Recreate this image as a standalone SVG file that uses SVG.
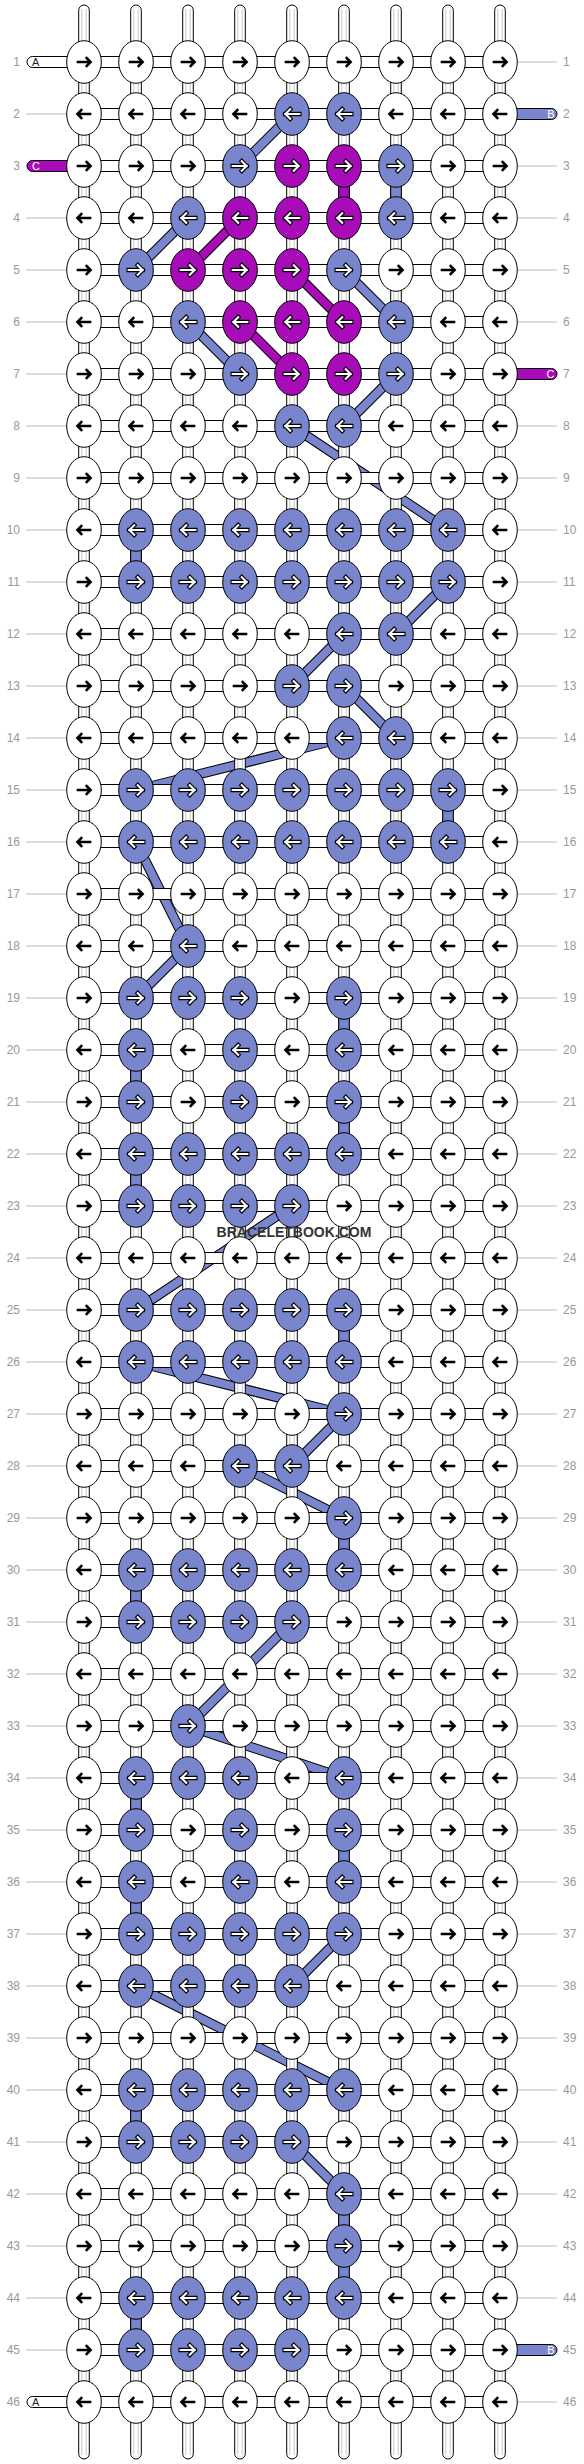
<svg xmlns="http://www.w3.org/2000/svg" xmlns:xlink="http://www.w3.org/1999/xlink" width="584" height="2464" viewBox="0 0 584 2464">
<style>
.lbl{font-family:"Liberation Sans",Arial,sans-serif;font-size:12px;fill:#999}
.ll{text-anchor:end}
.gry{fill:none;stroke:#bbb;stroke-width:1}
.w{fill:#fff;stroke:#000;stroke-width:1}
.b{fill:#7985cc;stroke:#000;stroke-width:1}
.m{fill:#a80bb8;stroke:#000;stroke-width:1}
.gl{fill:none;stroke:#c8c8c8;stroke-width:1}
.ak{fill:none;stroke:#000;stroke-width:2.6}
.ao{fill:none;stroke:#000;stroke-width:4.4;stroke-linecap:square}
.aw{fill:none;stroke:#fff;stroke-width:2.2;stroke-linecap:square}
.bo{fill:none;stroke:#000;stroke-width:10}
.bb{fill:none;stroke:#7985cc;stroke-width:8}
.bm{fill:none;stroke:#a80bb8;stroke-width:8}
.tl{font-family:"Liberation Sans",Arial,sans-serif;font-size:11px}
.wm{font-family:"Liberation Sans",Arial,sans-serif;font-size:14px;font-weight:bold;fill:#333;text-anchor:middle}
</style>
<defs>
<ellipse id="e" rx="17.3" ry="21.3"/>
<path id="pr" d="M-7.3,0H6.6M1.8,-4.8L6.6,0L1.8,4.8"/>
<path id="pl" d="M7.3,0H-6.6M-1.8,-4.8L-6.6,0L-1.8,4.8"/>
<g id="wR"><use href="#e" class="w"/><use href="#pr" class="ak"/></g>
<g id="wL"><use href="#e" class="w"/><use href="#pl" class="ak"/></g>
<g id="bR"><use href="#e" class="b"/><use href="#pr" class="ao"/><use href="#pr" class="aw"/></g>
<g id="bL"><use href="#e" class="b"/><use href="#pl" class="ao"/><use href="#pl" class="aw"/></g>
<g id="mR"><use href="#e" class="m"/><use href="#pr" class="ao"/><use href="#pr" class="aw"/></g>
<g id="mL"><use href="#e" class="m"/><use href="#pl" class="ao"/><use href="#pl" class="aw"/></g>
<g id="tube"><rect class="w" x="-5.3" y="5" width="10.6" height="2454" rx="5.3"/><path class="gl" d="M-2.2,9V2455M2.2,9V2455"/></g>
<rect id="hc" class="w" x="84" y="-5.5" width="416" height="11"/>
</defs>
<rect width="584" height="2464" fill="#fff"/>
<g id="labels">
<path class="gry" d="M26,114H67M26,218H67M26,270H67M26,322H67M26,374H67M26,426H67M26,478H67M26,530H67M26,582H67M26,634H67M26,686H67M26,738H67M26,790H67M26,842H67M26,894H67M26,946H67M26,998H67M26,1050H67M26,1102H67M26,1154H67M26,1206H67M26,1258H67M26,1310H67M26,1362H67M26,1414H67M26,1466H67M26,1518H67M26,1570H67M26,1622H67M26,1674H67M26,1726H67M26,1778H67M26,1830H67M26,1882H67M26,1934H67M26,1986H67M26,2038H67M26,2090H67M26,2142H67M26,2194H67M26,2246H67M26,2298H67M26,2350H67"/>
<path class="gry" d="M517,62H557M517,166H557M517,218H557M517,270H557M517,322H557M517,426H557M517,478H557M517,530H557M517,582H557M517,634H557M517,686H557M517,738H557M517,790H557M517,842H557M517,894H557M517,946H557M517,998H557M517,1050H557M517,1102H557M517,1154H557M517,1206H557M517,1258H557M517,1310H557M517,1362H557M517,1414H557M517,1466H557M517,1518H557M517,1570H557M517,1622H557M517,1674H557M517,1726H557M517,1778H557M517,1830H557M517,1882H557M517,1934H557M517,1986H557M517,2038H557M517,2090H557M517,2142H557M517,2194H557M517,2246H557M517,2298H557M517,2402H557"/>
<g class="lbl ll">
<text x="20" y="66.3">1</text><text x="20" y="118.3">2</text><text x="20" y="170.3">3</text><text x="20" y="222.3">4</text><text x="20" y="274.3">5</text><text x="20" y="326.3">6</text><text x="20" y="378.3">7</text><text x="20" y="430.3">8</text><text x="20" y="482.3">9</text><text x="20" y="534.3">10</text><text x="20" y="586.3">11</text><text x="20" y="638.3">12</text><text x="20" y="690.3">13</text><text x="20" y="742.3">14</text><text x="20" y="794.3">15</text><text x="20" y="846.3">16</text><text x="20" y="898.3">17</text><text x="20" y="950.3">18</text><text x="20" y="1002.3">19</text><text x="20" y="1054.3">20</text><text x="20" y="1106.3">21</text><text x="20" y="1158.3">22</text><text x="20" y="1210.3">23</text><text x="20" y="1262.3">24</text><text x="20" y="1314.3">25</text><text x="20" y="1366.3">26</text><text x="20" y="1418.3">27</text><text x="20" y="1470.3">28</text><text x="20" y="1522.3">29</text><text x="20" y="1574.3">30</text><text x="20" y="1626.3">31</text><text x="20" y="1678.3">32</text><text x="20" y="1730.3">33</text><text x="20" y="1782.3">34</text><text x="20" y="1834.3">35</text><text x="20" y="1886.3">36</text><text x="20" y="1938.3">37</text><text x="20" y="1990.3">38</text><text x="20" y="2042.3">39</text><text x="20" y="2094.3">40</text><text x="20" y="2146.3">41</text><text x="20" y="2198.3">42</text><text x="20" y="2250.3">43</text><text x="20" y="2302.3">44</text><text x="20" y="2354.3">45</text><text x="20" y="2406.3">46</text>
</g>
<g class="lbl">
<text x="563" y="66.3">1</text><text x="563" y="118.3">2</text><text x="563" y="170.3">3</text><text x="563" y="222.3">4</text><text x="563" y="274.3">5</text><text x="563" y="326.3">6</text><text x="563" y="378.3">7</text><text x="563" y="430.3">8</text><text x="563" y="482.3">9</text><text x="563" y="534.3">10</text><text x="563" y="586.3">11</text><text x="563" y="638.3">12</text><text x="563" y="690.3">13</text><text x="563" y="742.3">14</text><text x="563" y="794.3">15</text><text x="563" y="846.3">16</text><text x="563" y="898.3">17</text><text x="563" y="950.3">18</text><text x="563" y="1002.3">19</text><text x="563" y="1054.3">20</text><text x="563" y="1106.3">21</text><text x="563" y="1158.3">22</text><text x="563" y="1210.3">23</text><text x="563" y="1262.3">24</text><text x="563" y="1314.3">25</text><text x="563" y="1366.3">26</text><text x="563" y="1418.3">27</text><text x="563" y="1470.3">28</text><text x="563" y="1522.3">29</text><text x="563" y="1574.3">30</text><text x="563" y="1626.3">31</text><text x="563" y="1678.3">32</text><text x="563" y="1730.3">33</text><text x="563" y="1782.3">34</text><text x="563" y="1834.3">35</text><text x="563" y="1886.3">36</text><text x="563" y="1938.3">37</text><text x="563" y="1990.3">38</text><text x="563" y="2042.3">39</text><text x="563" y="2094.3">40</text><text x="563" y="2146.3">41</text><text x="563" y="2198.3">42</text><text x="563" y="2250.3">43</text><text x="563" y="2302.3">44</text><text x="563" y="2354.3">45</text><text x="563" y="2406.3">46</text>
</g>
</g>
<g id="connectors">
<path class="bo" d="M292,114L240,166M188,218L136,270M344,270L396,322M188,322L240,374M396,374L344,426M292,426L448,530M448,582L396,634M344,634L292,686M344,686L396,738M344,738L136,790M136,842L188,946M188,946L136,998M292,1206L136,1310M136,1362L344,1414M344,1414L292,1466M240,1466L344,1518M292,1622L188,1726M188,1726L344,1778M344,1934L292,1986M136,1986L344,2090M292,2142L344,2194M240,218L188,270M292,270L344,322M240,322L292,374"/>
<path class="bb" d="M292,114L240,166M188,218L136,270M344,270L396,322M188,322L240,374M396,374L344,426M292,426L448,530M448,582L396,634M344,634L292,686M344,686L396,738M344,738L136,790M136,842L188,946M188,946L136,998M292,1206L136,1310M136,1362L344,1414M344,1414L292,1466M240,1466L344,1518M292,1622L188,1726M188,1726L344,1778M344,1934L292,1986M136,1986L344,2090M292,2142L344,2194"/>
<path class="bm" d="M240,218L188,270M292,270L344,322M240,322L292,374"/>
<use href="#tube" x="84"/><use href="#tube" x="136"/><use href="#tube" x="188"/><use href="#tube" x="240"/><use href="#tube" x="292"/><use href="#tube" x="344"/><use href="#tube" x="396"/><use href="#tube" x="448"/><use href="#tube" x="500"/>
<use href="#hc" y="62"/><use href="#hc" y="114"/><use href="#hc" y="166"/><use href="#hc" y="218"/><use href="#hc" y="270"/><use href="#hc" y="322"/><use href="#hc" y="374"/><use href="#hc" y="426"/><use href="#hc" y="478"/><use href="#hc" y="530"/><use href="#hc" y="582"/><use href="#hc" y="634"/><use href="#hc" y="686"/><use href="#hc" y="738"/><use href="#hc" y="790"/><use href="#hc" y="842"/><use href="#hc" y="894"/><use href="#hc" y="946"/><use href="#hc" y="998"/><use href="#hc" y="1050"/><use href="#hc" y="1102"/><use href="#hc" y="1154"/><use href="#hc" y="1206"/><use href="#hc" y="1258"/><use href="#hc" y="1310"/><use href="#hc" y="1362"/><use href="#hc" y="1414"/><use href="#hc" y="1466"/><use href="#hc" y="1518"/><use href="#hc" y="1570"/><use href="#hc" y="1622"/><use href="#hc" y="1674"/><use href="#hc" y="1726"/><use href="#hc" y="1778"/><use href="#hc" y="1830"/><use href="#hc" y="1882"/><use href="#hc" y="1934"/><use href="#hc" y="1986"/><use href="#hc" y="2038"/><use href="#hc" y="2090"/><use href="#hc" y="2142"/><use href="#hc" y="2194"/><use href="#hc" y="2246"/><use href="#hc" y="2298"/><use href="#hc" y="2350"/><use href="#hc" y="2402"/>
<path class="w" d="M80,56.5H32.5A5.5,5.5 0 0 0 32.5,67.5H80"/>
<path class="m" d="M80,160.5H32.5A5.5,5.5 0 0 0 32.5,171.5H80"/>
<path class="w" d="M80,2396.5H32.5A5.5,5.5 0 0 0 32.5,2407.5H80"/>
<path class="b" d="M504,108.5H551.5A5.5,5.5 0 0 1 551.5,119.5H504"/>
<path class="m" d="M504,368.5H551.5A5.5,5.5 0 0 1 551.5,379.5H504"/>
<path class="b" d="M504,2344.5H551.5A5.5,5.5 0 0 1 551.5,2355.5H504"/>
<text class="tl" x="32" y="66" fill="#222">A</text>
<text class="tl" x="32" y="170" fill="#fff">C</text>
<text class="tl" x="32" y="2406" fill="#222">A</text>
<text class="tl" x="554.5" y="118" fill="#fff" text-anchor="end">B</text>
<text class="tl" x="554.5" y="378" fill="#fff" text-anchor="end">C</text>
<text class="tl" x="554.5" y="2354" fill="#fff" text-anchor="end">B</text>
<rect class="m" x="338.7" y="182" width="10.6" height="20"/>
<rect class="b" x="390.7" y="182" width="10.6" height="20"/>
<rect class="b" x="130.7" y="546" width="10.6" height="20"/>
<rect class="b" x="442.7" y="806" width="10.6" height="20"/>
<rect class="b" x="338.7" y="1014" width="10.6" height="20"/>
<rect class="b" x="130.7" y="1066" width="10.6" height="20"/>
<rect class="b" x="338.7" y="1118" width="10.6" height="20"/>
<rect class="b" x="130.7" y="1170" width="10.6" height="20"/>
<rect class="b" x="338.7" y="1326" width="10.6" height="20"/>
<rect class="b" x="338.7" y="1534" width="10.6" height="20"/>
<rect class="b" x="130.7" y="1586" width="10.6" height="20"/>
<rect class="b" x="130.7" y="1794" width="10.6" height="20"/>
<rect class="b" x="338.7" y="1846" width="10.6" height="20"/>
<rect class="b" x="130.7" y="1898" width="10.6" height="20"/>
<rect class="b" x="130.7" y="2106" width="10.6" height="20"/>
<rect class="b" x="338.7" y="2210" width="10.6" height="20"/>
<rect class="b" x="338.7" y="2262" width="10.6" height="20"/>
<rect class="b" x="130.7" y="2314" width="10.6" height="20"/>
</g>
<g id="knots">
<g id="k1_1"><use href="#wR" x="84" y="62"/></g><g id="k1_2"><use href="#wR" x="136" y="62"/></g><g id="k1_3"><use href="#wR" x="188" y="62"/></g><g id="k1_4"><use href="#wR" x="240" y="62"/></g><g id="k1_5"><use href="#wR" x="292" y="62"/></g><g id="k1_6"><use href="#wR" x="344" y="62"/></g><g id="k1_7"><use href="#wR" x="396" y="62"/></g><g id="k1_8"><use href="#wR" x="448" y="62"/></g><g id="k1_9"><use href="#wR" x="500" y="62"/></g>
<g id="k2_1"><use href="#wL" x="84" y="114"/></g><g id="k2_2"><use href="#wL" x="136" y="114"/></g><g id="k2_3"><use href="#wL" x="188" y="114"/></g><g id="k2_4"><use href="#wL" x="240" y="114"/></g><g id="k2_5"><use href="#bL" x="292" y="114"/></g><g id="k2_6"><use href="#bL" x="344" y="114"/></g><g id="k2_7"><use href="#wL" x="396" y="114"/></g><g id="k2_8"><use href="#wL" x="448" y="114"/></g><g id="k2_9"><use href="#wL" x="500" y="114"/></g>
<g id="k3_1"><use href="#wR" x="84" y="166"/></g><g id="k3_2"><use href="#wR" x="136" y="166"/></g><g id="k3_3"><use href="#wR" x="188" y="166"/></g><g id="k3_4"><use href="#bR" x="240" y="166"/></g><g id="k3_5"><use href="#mR" x="292" y="166"/></g><g id="k3_6"><use href="#mR" x="344" y="166"/></g><g id="k3_7"><use href="#bR" x="396" y="166"/></g><g id="k3_8"><use href="#wR" x="448" y="166"/></g><g id="k3_9"><use href="#wR" x="500" y="166"/></g>
<g id="k4_1"><use href="#wL" x="84" y="218"/></g><g id="k4_2"><use href="#wL" x="136" y="218"/></g><g id="k4_3"><use href="#bL" x="188" y="218"/></g><g id="k4_4"><use href="#mL" x="240" y="218"/></g><g id="k4_5"><use href="#mL" x="292" y="218"/></g><g id="k4_6"><use href="#mL" x="344" y="218"/></g><g id="k4_7"><use href="#bL" x="396" y="218"/></g><g id="k4_8"><use href="#wL" x="448" y="218"/></g><g id="k4_9"><use href="#wL" x="500" y="218"/></g>
<g id="k5_1"><use href="#wR" x="84" y="270"/></g><g id="k5_2"><use href="#bR" x="136" y="270"/></g><g id="k5_3"><use href="#mR" x="188" y="270"/></g><g id="k5_4"><use href="#mR" x="240" y="270"/></g><g id="k5_5"><use href="#mR" x="292" y="270"/></g><g id="k5_6"><use href="#bR" x="344" y="270"/></g><g id="k5_7"><use href="#wR" x="396" y="270"/></g><g id="k5_8"><use href="#wR" x="448" y="270"/></g><g id="k5_9"><use href="#wR" x="500" y="270"/></g>
<g id="k6_1"><use href="#wL" x="84" y="322"/></g><g id="k6_2"><use href="#wL" x="136" y="322"/></g><g id="k6_3"><use href="#bL" x="188" y="322"/></g><g id="k6_4"><use href="#mL" x="240" y="322"/></g><g id="k6_5"><use href="#mL" x="292" y="322"/></g><g id="k6_6"><use href="#mL" x="344" y="322"/></g><g id="k6_7"><use href="#bL" x="396" y="322"/></g><g id="k6_8"><use href="#wL" x="448" y="322"/></g><g id="k6_9"><use href="#wL" x="500" y="322"/></g>
<g id="k7_1"><use href="#wR" x="84" y="374"/></g><g id="k7_2"><use href="#wR" x="136" y="374"/></g><g id="k7_3"><use href="#wR" x="188" y="374"/></g><g id="k7_4"><use href="#bR" x="240" y="374"/></g><g id="k7_5"><use href="#mR" x="292" y="374"/></g><g id="k7_6"><use href="#mR" x="344" y="374"/></g><g id="k7_7"><use href="#bR" x="396" y="374"/></g><g id="k7_8"><use href="#wR" x="448" y="374"/></g><g id="k7_9"><use href="#wR" x="500" y="374"/></g>
<g id="k8_1"><use href="#wL" x="84" y="426"/></g><g id="k8_2"><use href="#wL" x="136" y="426"/></g><g id="k8_3"><use href="#wL" x="188" y="426"/></g><g id="k8_4"><use href="#wL" x="240" y="426"/></g><g id="k8_5"><use href="#bL" x="292" y="426"/></g><g id="k8_6"><use href="#bL" x="344" y="426"/></g><g id="k8_7"><use href="#wL" x="396" y="426"/></g><g id="k8_8"><use href="#wL" x="448" y="426"/></g><g id="k8_9"><use href="#wL" x="500" y="426"/></g>
<g id="k9_1"><use href="#wR" x="84" y="478"/></g><g id="k9_2"><use href="#wR" x="136" y="478"/></g><g id="k9_3"><use href="#wR" x="188" y="478"/></g><g id="k9_4"><use href="#wR" x="240" y="478"/></g><g id="k9_5"><use href="#wR" x="292" y="478"/></g><g id="k9_6"><use href="#wR" x="344" y="478"/></g><g id="k9_7"><use href="#wR" x="396" y="478"/></g><g id="k9_8"><use href="#wR" x="448" y="478"/></g><g id="k9_9"><use href="#wR" x="500" y="478"/></g>
<g id="k10_1"><use href="#wL" x="84" y="530"/></g><g id="k10_2"><use href="#bL" x="136" y="530"/></g><g id="k10_3"><use href="#bL" x="188" y="530"/></g><g id="k10_4"><use href="#bL" x="240" y="530"/></g><g id="k10_5"><use href="#bL" x="292" y="530"/></g><g id="k10_6"><use href="#bL" x="344" y="530"/></g><g id="k10_7"><use href="#bL" x="396" y="530"/></g><g id="k10_8"><use href="#bL" x="448" y="530"/></g><g id="k10_9"><use href="#wL" x="500" y="530"/></g>
<g id="k11_1"><use href="#wR" x="84" y="582"/></g><g id="k11_2"><use href="#bR" x="136" y="582"/></g><g id="k11_3"><use href="#bR" x="188" y="582"/></g><g id="k11_4"><use href="#bR" x="240" y="582"/></g><g id="k11_5"><use href="#bR" x="292" y="582"/></g><g id="k11_6"><use href="#bR" x="344" y="582"/></g><g id="k11_7"><use href="#bR" x="396" y="582"/></g><g id="k11_8"><use href="#bR" x="448" y="582"/></g><g id="k11_9"><use href="#wR" x="500" y="582"/></g>
<g id="k12_1"><use href="#wL" x="84" y="634"/></g><g id="k12_2"><use href="#wL" x="136" y="634"/></g><g id="k12_3"><use href="#wL" x="188" y="634"/></g><g id="k12_4"><use href="#wL" x="240" y="634"/></g><g id="k12_5"><use href="#wL" x="292" y="634"/></g><g id="k12_6"><use href="#bL" x="344" y="634"/></g><g id="k12_7"><use href="#bL" x="396" y="634"/></g><g id="k12_8"><use href="#wL" x="448" y="634"/></g><g id="k12_9"><use href="#wL" x="500" y="634"/></g>
<g id="k13_1"><use href="#wR" x="84" y="686"/></g><g id="k13_2"><use href="#wR" x="136" y="686"/></g><g id="k13_3"><use href="#wR" x="188" y="686"/></g><g id="k13_4"><use href="#wR" x="240" y="686"/></g><g id="k13_5"><use href="#bR" x="292" y="686"/></g><g id="k13_6"><use href="#bR" x="344" y="686"/></g><g id="k13_7"><use href="#wR" x="396" y="686"/></g><g id="k13_8"><use href="#wR" x="448" y="686"/></g><g id="k13_9"><use href="#wR" x="500" y="686"/></g>
<g id="k14_1"><use href="#wL" x="84" y="738"/></g><g id="k14_2"><use href="#wL" x="136" y="738"/></g><g id="k14_3"><use href="#wL" x="188" y="738"/></g><g id="k14_4"><use href="#wL" x="240" y="738"/></g><g id="k14_5"><use href="#wL" x="292" y="738"/></g><g id="k14_6"><use href="#bL" x="344" y="738"/></g><g id="k14_7"><use href="#bL" x="396" y="738"/></g><g id="k14_8"><use href="#wL" x="448" y="738"/></g><g id="k14_9"><use href="#wL" x="500" y="738"/></g>
<g id="k15_1"><use href="#wR" x="84" y="790"/></g><g id="k15_2"><use href="#bR" x="136" y="790"/></g><g id="k15_3"><use href="#bR" x="188" y="790"/></g><g id="k15_4"><use href="#bR" x="240" y="790"/></g><g id="k15_5"><use href="#bR" x="292" y="790"/></g><g id="k15_6"><use href="#bR" x="344" y="790"/></g><g id="k15_7"><use href="#bR" x="396" y="790"/></g><g id="k15_8"><use href="#bR" x="448" y="790"/></g><g id="k15_9"><use href="#wR" x="500" y="790"/></g>
<g id="k16_1"><use href="#wL" x="84" y="842"/></g><g id="k16_2"><use href="#bL" x="136" y="842"/></g><g id="k16_3"><use href="#bL" x="188" y="842"/></g><g id="k16_4"><use href="#bL" x="240" y="842"/></g><g id="k16_5"><use href="#bL" x="292" y="842"/></g><g id="k16_6"><use href="#bL" x="344" y="842"/></g><g id="k16_7"><use href="#bL" x="396" y="842"/></g><g id="k16_8"><use href="#bL" x="448" y="842"/></g><g id="k16_9"><use href="#wL" x="500" y="842"/></g>
<g id="k17_1"><use href="#wR" x="84" y="894"/></g><g id="k17_2"><use href="#wR" x="136" y="894"/></g><g id="k17_3"><use href="#wR" x="188" y="894"/></g><g id="k17_4"><use href="#wR" x="240" y="894"/></g><g id="k17_5"><use href="#wR" x="292" y="894"/></g><g id="k17_6"><use href="#wR" x="344" y="894"/></g><g id="k17_7"><use href="#wR" x="396" y="894"/></g><g id="k17_8"><use href="#wR" x="448" y="894"/></g><g id="k17_9"><use href="#wR" x="500" y="894"/></g>
<g id="k18_1"><use href="#wL" x="84" y="946"/></g><g id="k18_2"><use href="#wL" x="136" y="946"/></g><g id="k18_3"><use href="#bL" x="188" y="946"/></g><g id="k18_4"><use href="#wL" x="240" y="946"/></g><g id="k18_5"><use href="#wL" x="292" y="946"/></g><g id="k18_6"><use href="#wL" x="344" y="946"/></g><g id="k18_7"><use href="#wL" x="396" y="946"/></g><g id="k18_8"><use href="#wL" x="448" y="946"/></g><g id="k18_9"><use href="#wL" x="500" y="946"/></g>
<g id="k19_1"><use href="#wR" x="84" y="998"/></g><g id="k19_2"><use href="#bR" x="136" y="998"/></g><g id="k19_3"><use href="#bR" x="188" y="998"/></g><g id="k19_4"><use href="#bR" x="240" y="998"/></g><g id="k19_5"><use href="#wR" x="292" y="998"/></g><g id="k19_6"><use href="#bR" x="344" y="998"/></g><g id="k19_7"><use href="#wR" x="396" y="998"/></g><g id="k19_8"><use href="#wR" x="448" y="998"/></g><g id="k19_9"><use href="#wR" x="500" y="998"/></g>
<g id="k20_1"><use href="#wL" x="84" y="1050"/></g><g id="k20_2"><use href="#bL" x="136" y="1050"/></g><g id="k20_3"><use href="#wL" x="188" y="1050"/></g><g id="k20_4"><use href="#bL" x="240" y="1050"/></g><g id="k20_5"><use href="#wL" x="292" y="1050"/></g><g id="k20_6"><use href="#bL" x="344" y="1050"/></g><g id="k20_7"><use href="#wL" x="396" y="1050"/></g><g id="k20_8"><use href="#wL" x="448" y="1050"/></g><g id="k20_9"><use href="#wL" x="500" y="1050"/></g>
<g id="k21_1"><use href="#wR" x="84" y="1102"/></g><g id="k21_2"><use href="#bR" x="136" y="1102"/></g><g id="k21_3"><use href="#wR" x="188" y="1102"/></g><g id="k21_4"><use href="#bR" x="240" y="1102"/></g><g id="k21_5"><use href="#wR" x="292" y="1102"/></g><g id="k21_6"><use href="#bR" x="344" y="1102"/></g><g id="k21_7"><use href="#wR" x="396" y="1102"/></g><g id="k21_8"><use href="#wR" x="448" y="1102"/></g><g id="k21_9"><use href="#wR" x="500" y="1102"/></g>
<g id="k22_1"><use href="#wL" x="84" y="1154"/></g><g id="k22_2"><use href="#bL" x="136" y="1154"/></g><g id="k22_3"><use href="#bL" x="188" y="1154"/></g><g id="k22_4"><use href="#bL" x="240" y="1154"/></g><g id="k22_5"><use href="#bL" x="292" y="1154"/></g><g id="k22_6"><use href="#bL" x="344" y="1154"/></g><g id="k22_7"><use href="#wL" x="396" y="1154"/></g><g id="k22_8"><use href="#wL" x="448" y="1154"/></g><g id="k22_9"><use href="#wL" x="500" y="1154"/></g>
<g id="k23_1"><use href="#wR" x="84" y="1206"/></g><g id="k23_2"><use href="#bR" x="136" y="1206"/></g><g id="k23_3"><use href="#bR" x="188" y="1206"/></g><g id="k23_4"><use href="#bR" x="240" y="1206"/></g><g id="k23_5"><use href="#bR" x="292" y="1206"/></g><g id="k23_6"><use href="#wR" x="344" y="1206"/></g><g id="k23_7"><use href="#wR" x="396" y="1206"/></g><g id="k23_8"><use href="#wR" x="448" y="1206"/></g><g id="k23_9"><use href="#wR" x="500" y="1206"/></g>
<g id="k24_1"><use href="#wL" x="84" y="1258"/></g><g id="k24_2"><use href="#wL" x="136" y="1258"/></g><g id="k24_3"><use href="#wL" x="188" y="1258"/></g><g id="k24_4"><use href="#wL" x="240" y="1258"/></g><g id="k24_5"><use href="#wL" x="292" y="1258"/></g><g id="k24_6"><use href="#wL" x="344" y="1258"/></g><g id="k24_7"><use href="#wL" x="396" y="1258"/></g><g id="k24_8"><use href="#wL" x="448" y="1258"/></g><g id="k24_9"><use href="#wL" x="500" y="1258"/></g>
<g id="k25_1"><use href="#wR" x="84" y="1310"/></g><g id="k25_2"><use href="#bR" x="136" y="1310"/></g><g id="k25_3"><use href="#bR" x="188" y="1310"/></g><g id="k25_4"><use href="#bR" x="240" y="1310"/></g><g id="k25_5"><use href="#bR" x="292" y="1310"/></g><g id="k25_6"><use href="#bR" x="344" y="1310"/></g><g id="k25_7"><use href="#wR" x="396" y="1310"/></g><g id="k25_8"><use href="#wR" x="448" y="1310"/></g><g id="k25_9"><use href="#wR" x="500" y="1310"/></g>
<g id="k26_1"><use href="#wL" x="84" y="1362"/></g><g id="k26_2"><use href="#bL" x="136" y="1362"/></g><g id="k26_3"><use href="#bL" x="188" y="1362"/></g><g id="k26_4"><use href="#bL" x="240" y="1362"/></g><g id="k26_5"><use href="#bL" x="292" y="1362"/></g><g id="k26_6"><use href="#bL" x="344" y="1362"/></g><g id="k26_7"><use href="#wL" x="396" y="1362"/></g><g id="k26_8"><use href="#wL" x="448" y="1362"/></g><g id="k26_9"><use href="#wL" x="500" y="1362"/></g>
<g id="k27_1"><use href="#wR" x="84" y="1414"/></g><g id="k27_2"><use href="#wR" x="136" y="1414"/></g><g id="k27_3"><use href="#wR" x="188" y="1414"/></g><g id="k27_4"><use href="#wR" x="240" y="1414"/></g><g id="k27_5"><use href="#wR" x="292" y="1414"/></g><g id="k27_6"><use href="#bR" x="344" y="1414"/></g><g id="k27_7"><use href="#wR" x="396" y="1414"/></g><g id="k27_8"><use href="#wR" x="448" y="1414"/></g><g id="k27_9"><use href="#wR" x="500" y="1414"/></g>
<g id="k28_1"><use href="#wL" x="84" y="1466"/></g><g id="k28_2"><use href="#wL" x="136" y="1466"/></g><g id="k28_3"><use href="#wL" x="188" y="1466"/></g><g id="k28_4"><use href="#bL" x="240" y="1466"/></g><g id="k28_5"><use href="#bL" x="292" y="1466"/></g><g id="k28_6"><use href="#wL" x="344" y="1466"/></g><g id="k28_7"><use href="#wL" x="396" y="1466"/></g><g id="k28_8"><use href="#wL" x="448" y="1466"/></g><g id="k28_9"><use href="#wL" x="500" y="1466"/></g>
<g id="k29_1"><use href="#wR" x="84" y="1518"/></g><g id="k29_2"><use href="#wR" x="136" y="1518"/></g><g id="k29_3"><use href="#wR" x="188" y="1518"/></g><g id="k29_4"><use href="#wR" x="240" y="1518"/></g><g id="k29_5"><use href="#wR" x="292" y="1518"/></g><g id="k29_6"><use href="#bR" x="344" y="1518"/></g><g id="k29_7"><use href="#wR" x="396" y="1518"/></g><g id="k29_8"><use href="#wR" x="448" y="1518"/></g><g id="k29_9"><use href="#wR" x="500" y="1518"/></g>
<g id="k30_1"><use href="#wL" x="84" y="1570"/></g><g id="k30_2"><use href="#bL" x="136" y="1570"/></g><g id="k30_3"><use href="#bL" x="188" y="1570"/></g><g id="k30_4"><use href="#bL" x="240" y="1570"/></g><g id="k30_5"><use href="#bL" x="292" y="1570"/></g><g id="k30_6"><use href="#bL" x="344" y="1570"/></g><g id="k30_7"><use href="#wL" x="396" y="1570"/></g><g id="k30_8"><use href="#wL" x="448" y="1570"/></g><g id="k30_9"><use href="#wL" x="500" y="1570"/></g>
<g id="k31_1"><use href="#wR" x="84" y="1622"/></g><g id="k31_2"><use href="#bR" x="136" y="1622"/></g><g id="k31_3"><use href="#bR" x="188" y="1622"/></g><g id="k31_4"><use href="#bR" x="240" y="1622"/></g><g id="k31_5"><use href="#bR" x="292" y="1622"/></g><g id="k31_6"><use href="#wR" x="344" y="1622"/></g><g id="k31_7"><use href="#wR" x="396" y="1622"/></g><g id="k31_8"><use href="#wR" x="448" y="1622"/></g><g id="k31_9"><use href="#wR" x="500" y="1622"/></g>
<g id="k32_1"><use href="#wL" x="84" y="1674"/></g><g id="k32_2"><use href="#wL" x="136" y="1674"/></g><g id="k32_3"><use href="#wL" x="188" y="1674"/></g><g id="k32_4"><use href="#wL" x="240" y="1674"/></g><g id="k32_5"><use href="#wL" x="292" y="1674"/></g><g id="k32_6"><use href="#wL" x="344" y="1674"/></g><g id="k32_7"><use href="#wL" x="396" y="1674"/></g><g id="k32_8"><use href="#wL" x="448" y="1674"/></g><g id="k32_9"><use href="#wL" x="500" y="1674"/></g>
<g id="k33_1"><use href="#wR" x="84" y="1726"/></g><g id="k33_2"><use href="#wR" x="136" y="1726"/></g><g id="k33_3"><use href="#bR" x="188" y="1726"/></g><g id="k33_4"><use href="#wR" x="240" y="1726"/></g><g id="k33_5"><use href="#wR" x="292" y="1726"/></g><g id="k33_6"><use href="#wR" x="344" y="1726"/></g><g id="k33_7"><use href="#wR" x="396" y="1726"/></g><g id="k33_8"><use href="#wR" x="448" y="1726"/></g><g id="k33_9"><use href="#wR" x="500" y="1726"/></g>
<g id="k34_1"><use href="#wL" x="84" y="1778"/></g><g id="k34_2"><use href="#bL" x="136" y="1778"/></g><g id="k34_3"><use href="#bL" x="188" y="1778"/></g><g id="k34_4"><use href="#bL" x="240" y="1778"/></g><g id="k34_5"><use href="#wL" x="292" y="1778"/></g><g id="k34_6"><use href="#bL" x="344" y="1778"/></g><g id="k34_7"><use href="#wL" x="396" y="1778"/></g><g id="k34_8"><use href="#wL" x="448" y="1778"/></g><g id="k34_9"><use href="#wL" x="500" y="1778"/></g>
<g id="k35_1"><use href="#wR" x="84" y="1830"/></g><g id="k35_2"><use href="#bR" x="136" y="1830"/></g><g id="k35_3"><use href="#wR" x="188" y="1830"/></g><g id="k35_4"><use href="#bR" x="240" y="1830"/></g><g id="k35_5"><use href="#wR" x="292" y="1830"/></g><g id="k35_6"><use href="#bR" x="344" y="1830"/></g><g id="k35_7"><use href="#wR" x="396" y="1830"/></g><g id="k35_8"><use href="#wR" x="448" y="1830"/></g><g id="k35_9"><use href="#wR" x="500" y="1830"/></g>
<g id="k36_1"><use href="#wL" x="84" y="1882"/></g><g id="k36_2"><use href="#bL" x="136" y="1882"/></g><g id="k36_3"><use href="#wL" x="188" y="1882"/></g><g id="k36_4"><use href="#bL" x="240" y="1882"/></g><g id="k36_5"><use href="#wL" x="292" y="1882"/></g><g id="k36_6"><use href="#bL" x="344" y="1882"/></g><g id="k36_7"><use href="#wL" x="396" y="1882"/></g><g id="k36_8"><use href="#wL" x="448" y="1882"/></g><g id="k36_9"><use href="#wL" x="500" y="1882"/></g>
<g id="k37_1"><use href="#wR" x="84" y="1934"/></g><g id="k37_2"><use href="#bR" x="136" y="1934"/></g><g id="k37_3"><use href="#bR" x="188" y="1934"/></g><g id="k37_4"><use href="#bR" x="240" y="1934"/></g><g id="k37_5"><use href="#bR" x="292" y="1934"/></g><g id="k37_6"><use href="#bR" x="344" y="1934"/></g><g id="k37_7"><use href="#wR" x="396" y="1934"/></g><g id="k37_8"><use href="#wR" x="448" y="1934"/></g><g id="k37_9"><use href="#wR" x="500" y="1934"/></g>
<g id="k38_1"><use href="#wL" x="84" y="1986"/></g><g id="k38_2"><use href="#bL" x="136" y="1986"/></g><g id="k38_3"><use href="#bL" x="188" y="1986"/></g><g id="k38_4"><use href="#bL" x="240" y="1986"/></g><g id="k38_5"><use href="#bL" x="292" y="1986"/></g><g id="k38_6"><use href="#wL" x="344" y="1986"/></g><g id="k38_7"><use href="#wL" x="396" y="1986"/></g><g id="k38_8"><use href="#wL" x="448" y="1986"/></g><g id="k38_9"><use href="#wL" x="500" y="1986"/></g>
<g id="k39_1"><use href="#wR" x="84" y="2038"/></g><g id="k39_2"><use href="#wR" x="136" y="2038"/></g><g id="k39_3"><use href="#wR" x="188" y="2038"/></g><g id="k39_4"><use href="#wR" x="240" y="2038"/></g><g id="k39_5"><use href="#wR" x="292" y="2038"/></g><g id="k39_6"><use href="#wR" x="344" y="2038"/></g><g id="k39_7"><use href="#wR" x="396" y="2038"/></g><g id="k39_8"><use href="#wR" x="448" y="2038"/></g><g id="k39_9"><use href="#wR" x="500" y="2038"/></g>
<g id="k40_1"><use href="#wL" x="84" y="2090"/></g><g id="k40_2"><use href="#bL" x="136" y="2090"/></g><g id="k40_3"><use href="#bL" x="188" y="2090"/></g><g id="k40_4"><use href="#bL" x="240" y="2090"/></g><g id="k40_5"><use href="#bL" x="292" y="2090"/></g><g id="k40_6"><use href="#bL" x="344" y="2090"/></g><g id="k40_7"><use href="#wL" x="396" y="2090"/></g><g id="k40_8"><use href="#wL" x="448" y="2090"/></g><g id="k40_9"><use href="#wL" x="500" y="2090"/></g>
<g id="k41_1"><use href="#wR" x="84" y="2142"/></g><g id="k41_2"><use href="#bR" x="136" y="2142"/></g><g id="k41_3"><use href="#bR" x="188" y="2142"/></g><g id="k41_4"><use href="#bR" x="240" y="2142"/></g><g id="k41_5"><use href="#bR" x="292" y="2142"/></g><g id="k41_6"><use href="#wR" x="344" y="2142"/></g><g id="k41_7"><use href="#wR" x="396" y="2142"/></g><g id="k41_8"><use href="#wR" x="448" y="2142"/></g><g id="k41_9"><use href="#wR" x="500" y="2142"/></g>
<g id="k42_1"><use href="#wL" x="84" y="2194"/></g><g id="k42_2"><use href="#wL" x="136" y="2194"/></g><g id="k42_3"><use href="#wL" x="188" y="2194"/></g><g id="k42_4"><use href="#wL" x="240" y="2194"/></g><g id="k42_5"><use href="#wL" x="292" y="2194"/></g><g id="k42_6"><use href="#bL" x="344" y="2194"/></g><g id="k42_7"><use href="#wL" x="396" y="2194"/></g><g id="k42_8"><use href="#wL" x="448" y="2194"/></g><g id="k42_9"><use href="#wL" x="500" y="2194"/></g>
<g id="k43_1"><use href="#wR" x="84" y="2246"/></g><g id="k43_2"><use href="#wR" x="136" y="2246"/></g><g id="k43_3"><use href="#wR" x="188" y="2246"/></g><g id="k43_4"><use href="#wR" x="240" y="2246"/></g><g id="k43_5"><use href="#wR" x="292" y="2246"/></g><g id="k43_6"><use href="#bR" x="344" y="2246"/></g><g id="k43_7"><use href="#wR" x="396" y="2246"/></g><g id="k43_8"><use href="#wR" x="448" y="2246"/></g><g id="k43_9"><use href="#wR" x="500" y="2246"/></g>
<g id="k44_1"><use href="#wL" x="84" y="2298"/></g><g id="k44_2"><use href="#bL" x="136" y="2298"/></g><g id="k44_3"><use href="#bL" x="188" y="2298"/></g><g id="k44_4"><use href="#bL" x="240" y="2298"/></g><g id="k44_5"><use href="#bL" x="292" y="2298"/></g><g id="k44_6"><use href="#bL" x="344" y="2298"/></g><g id="k44_7"><use href="#wL" x="396" y="2298"/></g><g id="k44_8"><use href="#wL" x="448" y="2298"/></g><g id="k44_9"><use href="#wL" x="500" y="2298"/></g>
<g id="k45_1"><use href="#wR" x="84" y="2350"/></g><g id="k45_2"><use href="#bR" x="136" y="2350"/></g><g id="k45_3"><use href="#bR" x="188" y="2350"/></g><g id="k45_4"><use href="#bR" x="240" y="2350"/></g><g id="k45_5"><use href="#bR" x="292" y="2350"/></g><g id="k45_6"><use href="#wR" x="344" y="2350"/></g><g id="k45_7"><use href="#wR" x="396" y="2350"/></g><g id="k45_8"><use href="#wR" x="448" y="2350"/></g><g id="k45_9"><use href="#wR" x="500" y="2350"/></g>
<g id="k46_1"><use href="#wL" x="84" y="2402"/></g><g id="k46_2"><use href="#wL" x="136" y="2402"/></g><g id="k46_3"><use href="#wL" x="188" y="2402"/></g><g id="k46_4"><use href="#wL" x="240" y="2402"/></g><g id="k46_5"><use href="#wL" x="292" y="2402"/></g><g id="k46_6"><use href="#wL" x="344" y="2402"/></g><g id="k46_7"><use href="#wL" x="396" y="2402"/></g><g id="k46_8"><use href="#wL" x="448" y="2402"/></g><g id="k46_9"><use href="#wL" x="500" y="2402"/></g>
</g>
<text class="wm" x="294" y="1236.5">BRACELETBOOK.COM</text>
</svg>
